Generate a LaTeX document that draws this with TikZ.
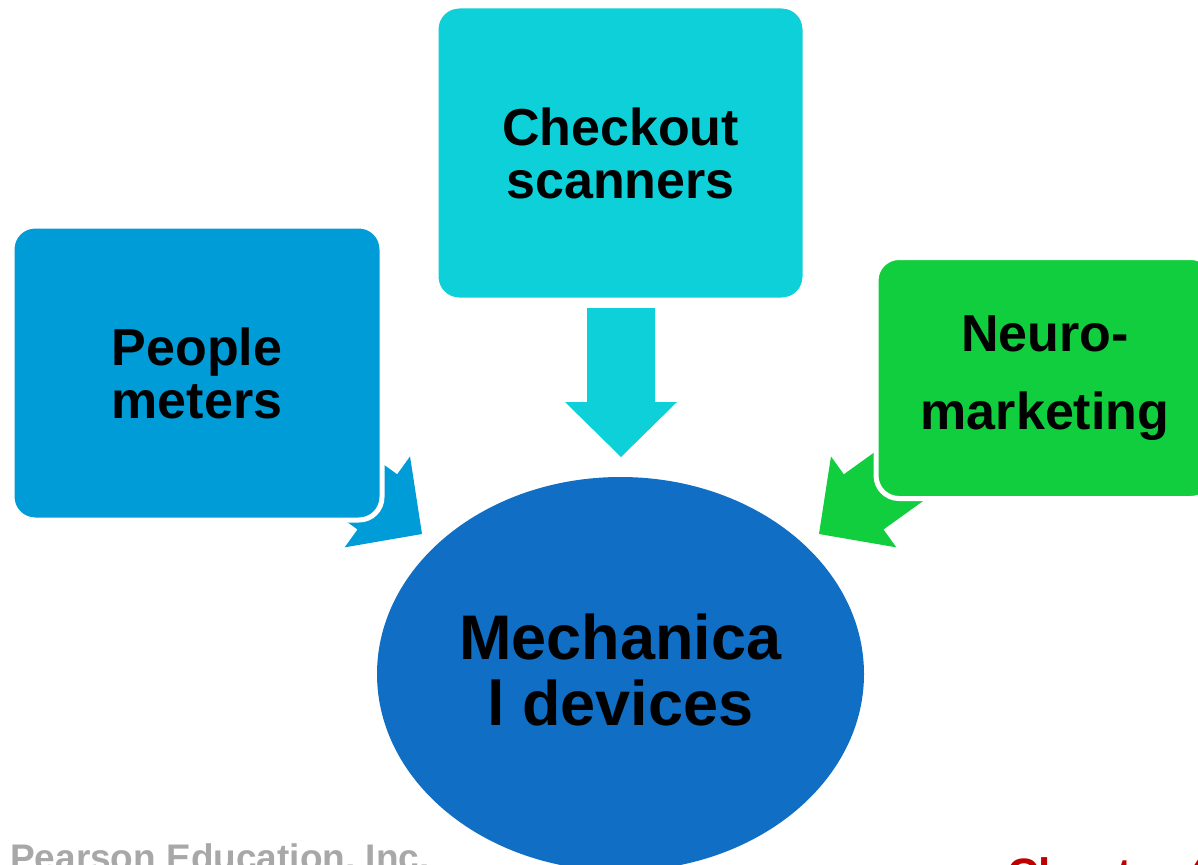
\documentclass[tikz,border=0pt]{standalone}
\usepackage{fontspec}
\setmainfont{Liberation Sans}
\usetikzlibrary{calc,shapes.geometric}

\definecolor{scancol}{RGB}{14,208,216}
\definecolor{metercol}{RGB}{0,156,216}
\definecolor{neurocol}{RGB}{17,206,62}
\definecolor{mechcol}{RGB}{16,111,196}
\definecolor{footgray}{RGB}{168,168,168}
\definecolor{footred}{RGB}{192,0,0}

\tikzset{
  box/.style={rectangle, rounded corners=23, draw=white, line width=5,
    align=center, inner sep=0, font=\fontsize{52}{53}\selectfont\bfseries},
  hub/.style={ellipse, fill=mechcol, inner sep=0, align=center,
    font=\fontsize{63}{66}\selectfont\bfseries},
}

% block arrow: colour, tail, tip
\newcommand{\blockarrow}[3]{%
  \coordinate (h) at ($(#3)!55pt!(#2)$);
  \fill[#1] ($(#2)!34pt!90:(#3)$) -- ($(h)!34pt!-90:(#2)$) -- ($(h)!56pt!-90:(#2)$)
    -- (#3) -- ($(h)!56pt!90:(#2)$) -- ($(h)!34pt!90:(#2)$) -- ($(#2)!34pt!-90:(#3)$) -- cycle;}

\begin{document}
\begin{tikzpicture}[x=1pt,y=-1pt]
 \useasboundingbox (0,0) rectangle (1198,864);
 \clip (0,0) rectangle (1198,864);

 \coordinate (scanT) at (621,308);
 \coordinate (scanP) at (621,457);
 \coordinate (meterT) at (301,447);
 \coordinate (meterP) at (422,534);
 \coordinate (neuroT) at (940,447);
 \coordinate (neuroP) at (819,534);
 \blockarrow{scancol}{scanT}{scanP}
 \blockarrow{metercol}{meterT}{meterP}
 \blockarrow{neurocol}{neuroT}{neuroP}

 \node[box, fill=scancol, minimum width=369, minimum height=294] (scan) at (620.5,153) {Checkout\\scanners};
 \node[box, fill=metercol, minimum width=370, minimum height=294] (meter) at (197,373) {People\\meters};
 \node[box, fill=neurocol, minimum width=338, minimum height=241, font=\fontsize{52}{78}\selectfont\bfseries] (neuro) at (1045,378) {Neuro-\\marketing};
 \node[hub, minimum width=487, minimum height=394, text depth=8] (mech) at (620.5,674) {Mechanica\\l devices};

 \node[anchor=base west, text=footgray, font=\fontsize{37}{37}\selectfont\bfseries, inner sep=0] (pub) at (10,870) {Pearson Education, Inc.};
 \node[anchor=base west, text=footred, font=\fontsize{44}{44}\selectfont\bfseries, inner sep=0] (chap) at (1007,889) {Chapter 4};
\end{tikzpicture}
\end{document}
